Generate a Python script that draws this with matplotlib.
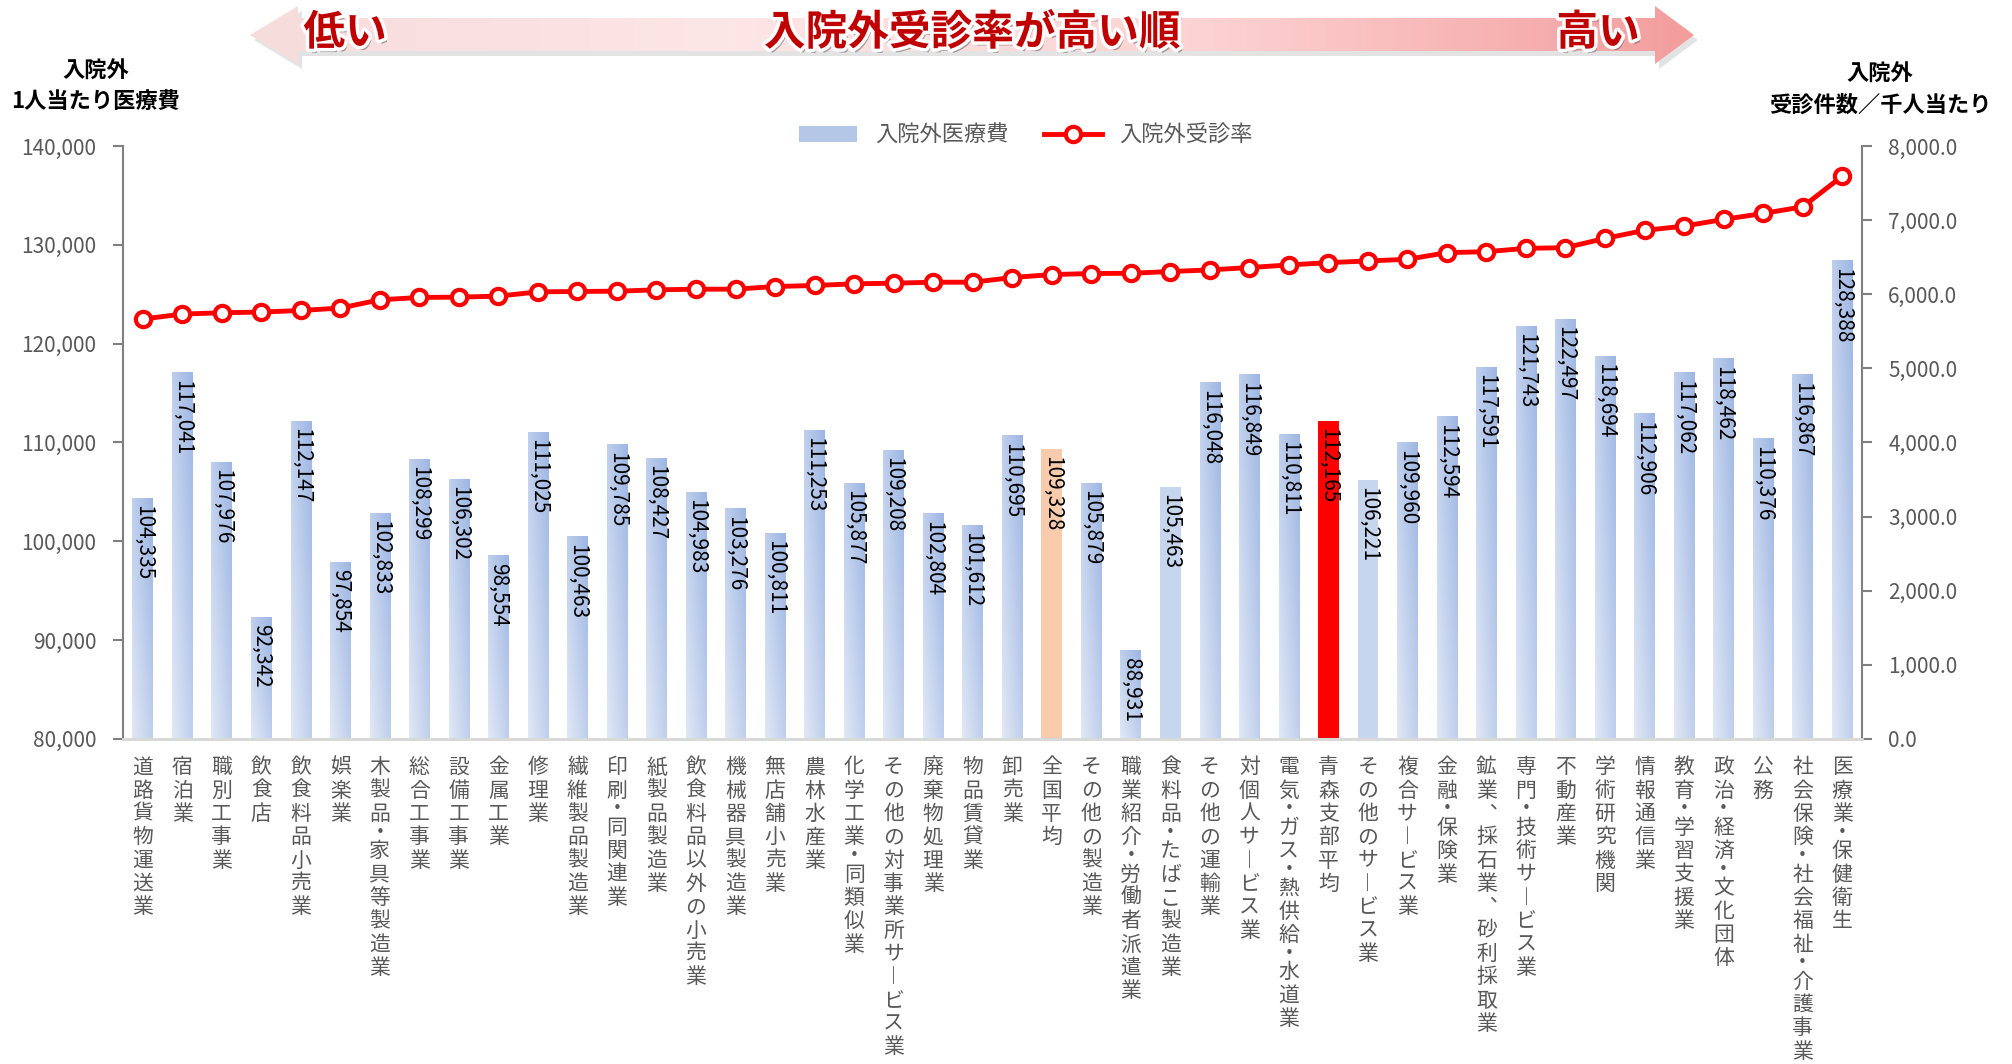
import numpy as np
import matplotlib
matplotlib.use("Agg")
import matplotlib.pyplot as plt
from matplotlib.colors import LinearSegmentedColormap
from matplotlib.patches import Polygon, Patch
from matplotlib.lines import Line2D
from matplotlib.ticker import FuncFormatter, MultipleLocator
import matplotlib.patheffects as pe

plt.rcParams['font.family'] = ['Noto Sans CJK JP', 'DejaVu Sans']
plt.rcParams['axes.unicode_minus'] = False

# --- data ---
categories = [
    '道路貨物運送業', '宿泊業', '職別工事業', '飲食店', '飲食料品小売業', '娯楽業',
    '木製品・家具等製造業', '総合工事業', '設備工事業', '金属工業', '修理業',
    '繊維製品製造業', '印刷・同関連業', '紙製品製造業', '飲食料品以外の小売業',
    '機械器具製造業', '無店舗小売業', '農林水産業', '化学工業・同類似業',
    'その他の対事業所サービス業', '廃棄物処理業', '物品賃貸業', '卸売業', '全国平均',
    'その他の製造業', '職業紹介・労働者派遣業', '食料品・たばこ製造業', 'その他の運輸業',
    '対個人サービス業', '電気・ガス・熱供給・水道業', '青森支部平均', 'その他のサービス業',
    '複合サービス業', '金融・保険業', '鉱業、採石業、砂利採取業', '専門・技術サービス業',
    '不動産業', '学術研究機関', '情報通信業', '教育・学習支援業', '政治・経済・文化団体',
    '公務', '社会保険・社会福祉・介護事業', '医療業・保健衛生',
]
cost = [104335, 117041, 107976, 92342, 112147, 97854, 102833, 108299, 106302, 98554,
        111025, 100463, 109785, 108427, 104983, 103276, 100811, 111253, 105877, 109208,
        102804, 101612, 110695, 109328, 105879, 88931, 105463, 116048, 116849, 110811,
        112165, 106221, 109960, 112594, 117591, 121743, 122497, 118694, 112906, 117062,
        118462, 110376, 116867, 128388]
rate = [5665, 5732, 5750, 5759, 5781, 5813, 5925, 5956, 5961, 5974, 6032, 6037, 6041,
        6059, 6068, 6068, 6104, 6118, 6140, 6149, 6162, 6162, 6225, 6265, 6279, 6283,
        6306, 6328, 6360, 6395, 6426, 6449, 6471, 6561, 6574, 6619, 6628, 6753, 6861,
        6919, 7009, 7090, 7179, 7592]
# bars with a flat colour instead of the blue gradient
special = {'全国平均': '#f8cbad', '青森支部平均': '#ff0000',
           '食料品・たばこ製造業': '#c6d6ef', 'その他のサービス業': '#c6d6ef'}

gray = '#595959'
fig = plt.figure(figsize=(20.12, 10.64), dpi=100)
fig.patch.set_facecolor('white')
ax = fig.add_axes([0.0611, 0.3055, 0.8643, 0.5573])
ax2 = ax.twinx()

x = np.arange(len(categories))
bw = 0.52
ymin, ymax = 80000, 140000
cmap = LinearSegmentedColormap.from_list('bl', ['#e1e8f6', '#9db6e3'])
grad = np.add.outer(np.linspace(1, 0, 50), np.linspace(0, 1, 20)) / 2

for xi, name, v in zip(x, categories, cost):
    if name in special:
        ax.bar(xi, v - ymin, bottom=ymin, width=bw, color=special[name], zorder=2)
    else:
        ax.imshow(grad, cmap=cmap, extent=[xi - bw / 2, xi + bw / 2, ymin, v],
                  aspect='auto', interpolation='bilinear', zorder=2)
    ax.annotate(f'{v:,}', xy=(xi, v), xytext=(0, -5), textcoords='offset points',
                rotation=-90, ha='center', va='top', fontsize=15, color='black', zorder=3)

ax.set_xlim(-0.5, len(categories) - 0.5)
ax.set_ylim(ymin, ymax)
ax.yaxis.set_major_locator(MultipleLocator(10000))
ax.yaxis.set_major_formatter(FuncFormatter(lambda v, p: f'{int(v):,}'))

# category names written vertically, one character under the other
ax.set_xticks(x)
ax.set_xticklabels([])
ax.tick_params(axis='x', length=0)
step, dot_step, top0 = 16.8, 10.0, 12
for xi, name in zip(x, categories):
    pos = top0
    for ch in name.replace('ー', '︱').replace('、', '︑'):
        h = dot_step if ch == '・' else step
        ax.annotate(ch, xy=(xi, 0), xycoords=ax.get_xaxis_transform(),
                    xytext=(0, -(pos + h / 2)), textcoords='offset points',
                    ha='center', va='center', fontsize=15, color=gray,
                    annotation_clip=False)
        pos += h

ax.tick_params(axis='y', labelsize=15, labelcolor=gray, color='#808080',
               length=7, width=1.5, pad=12)

ax2.plot(x, rate, color='#ff0000', lw=3.5, marker='o', ms=11, mfc='white',
         mec='#ff0000', mew=3, zorder=4)
ax2.set_ylim(0, 8000)
ax2.yaxis.set_major_locator(MultipleLocator(1000))
ax2.yaxis.set_major_formatter(FuncFormatter(lambda v, p: f'{v:,.1f}'))
ax2.tick_params(axis='y', labelsize=15, labelcolor=gray, color='#808080',
                length=7, width=1.5, pad=12)

for a in (ax, ax2):
    a.spines['top'].set_visible(False)
    a.spines['left'].set_color('#808080')
    a.spines['right'].set_color('#808080')
    a.spines['left'].set_linewidth(1.5)
    a.spines['right'].set_linewidth(1.5)
    a.spines['bottom'].set_color('#d9d9d9')
    a.spines['bottom'].set_linewidth(2)
ax.spines['right'].set_visible(False)
ax2.spines['left'].set_visible(False)

# axis titles
fig.text(96 / 2012, 1 - 71 / 1064, '入院外', ha='center', va='center', fontsize=16,
         fontweight='bold')
fig.text(96 / 2012, 1 - 101 / 1064, '1人当たり医療費', ha='center', va='center',
         fontsize=16, fontweight='bold')
fig.text(1880 / 2012, 1 - 74 / 1064, '入院外', ha='center', va='center', fontsize=16,
         fontweight='bold')
fig.text(1880 / 2012, 1 - 105 / 1064, '受診件数／千人当たり', ha='center', va='center',
         fontsize=16, fontweight='bold')

# legend
handles = [Patch(facecolor='#b4c7e7', edgecolor='none'),
           Line2D([], [], color='#ff0000', lw=3.5, marker='o', ms=11, mfc='white',
                  mec='#ff0000', mew=3)]
fig.legend(handles, ['入院外医療費', '入院外受診率'], loc='center', ncol=2,
           bbox_to_anchor=(0.51, 1 - 135 / 1064), frameon=False, fontsize=16,
           labelcolor=gray, handlelength=2.6, columnspacing=1.6)

# banner arrow across the top
bx = fig.add_axes([0, 1 - 80 / 1064, 1, 80 / 1064])
bx.set_xlim(0, 2012)
bx.set_ylim(80, 0)
bx.axis('off')
pts = [(250, 35), (298, 6), (298, 18), (1655, 18), (1655, 6), (1694, 35),
       (1655, 64), (1655, 51), (298, 51), (298, 64)]
shadow = Polygon([(px + 4, py + 5) for px, py in pts], closed=True,
                 facecolor='#b0b0b0', edgecolor='none', alpha=0.35, zorder=0)
bx.add_patch(shadow)
arrow = Polygon(pts, closed=True, facecolor='none', edgecolor='none', zorder=1)
bx.add_patch(arrow)
pink = LinearSegmentedColormap.from_list('pk', ['#f7dcdc', '#fde6e6', '#fdd2d2', '#f39d9d'])
img = bx.imshow(np.linspace(0, 1, 256)[None, :], cmap=pink, extent=[250, 1694, 64, 6],
                aspect='auto', interpolation='bilinear', zorder=1)
img.set_clip_path(arrow)
bx.set_xlim(0, 2012)
bx.set_ylim(80, 0)

effects = [pe.SimplePatchShadow(offset=(2, -3), shadow_rgbFace='#555555', alpha=0.5),
           pe.withStroke(linewidth=5, foreground='white')]
for tx, s in [(345, '低い'), (972, '入院外受診率が高い順'), (1598, '高い')]:
    bx.text(tx, 33, s, ha='center', va='center', fontsize=30, fontweight='bold',
            color='#c00000', path_effects=effects, zorder=3)

fig.savefig('out.png', dpi=100, facecolor='white')
